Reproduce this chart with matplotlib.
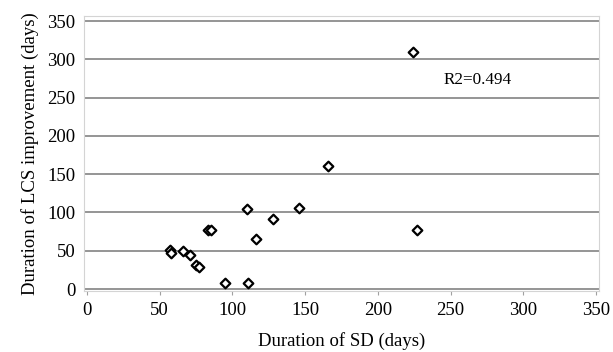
import matplotlib
matplotlib.use("Agg")
import matplotlib.pyplot as plt

sd_days = [224, 227, 166, 146, 110, 128, 116, 83, 85, 95, 111, 57, 58, 66, 71, 75, 77]
lcs_days = [310, 77, 160, 106, 105, 92, 65, 77, 77, 8, 8, 51, 47, 50, 44, 31, 29]
x_ticks = [0, 50, 100, 150, 200, 250, 300, 350]
y_ticks = [0, 50, 100, 150, 200, 250, 300, 350]
r2_text = "R2=0.494"

plt.rcParams['font.family'] = ['Liberation Serif', 'DejaVu Serif']

W, H = 613, 352
fig = plt.figure(figsize=(W / 100, H / 100), dpi=100)
left_px, right_px, top_px, bottom_px = 84, 599, 16, 291
ax = fig.add_axes([left_px / W, 1 - bottom_px / H, (right_px - left_px) / W, (bottom_px - top_px) / H])

xs = (596 - 87) / 350
ax.set_xlim(-(87 - left_px) / xs, 350 + (right_px - 596) / xs)
ys = (289 - 21) / 350
ax.set_ylim(-(bottom_px - 289) / ys, 350 + (21 - top_px) / ys)

for yv in y_ticks:
    ax.axhline(yv, color='#8c8c8c', lw=1.3, zorder=1)

ax.scatter(sd_days, lcs_days, marker='D', s=24, facecolors='white', edgecolors='black',
           linewidths=1.6, zorder=3)

ax.text(245, 273, r2_text, fontsize=12.3, va='center', ha='left')

for s in ax.spines.values():
    s.set_color('#d4d4d4')
    s.set_linewidth(0.8)

ax.set_xticks(x_ticks)
ax.set_yticks(y_ticks)
ax.tick_params(axis='x', length=3, color='#a0a0a0', labelsize=13.5, pad=5)
ax.tick_params(axis='y', length=0, labelsize=13.5, pad=6)

ax.set_xlabel("Duration of SD (days)", fontsize=13.5, labelpad=9)
ax.set_ylabel("Duration of LCS improvement (days)", fontsize=13.5, labelpad=6)

fig.savefig("out.png", dpi=100)
